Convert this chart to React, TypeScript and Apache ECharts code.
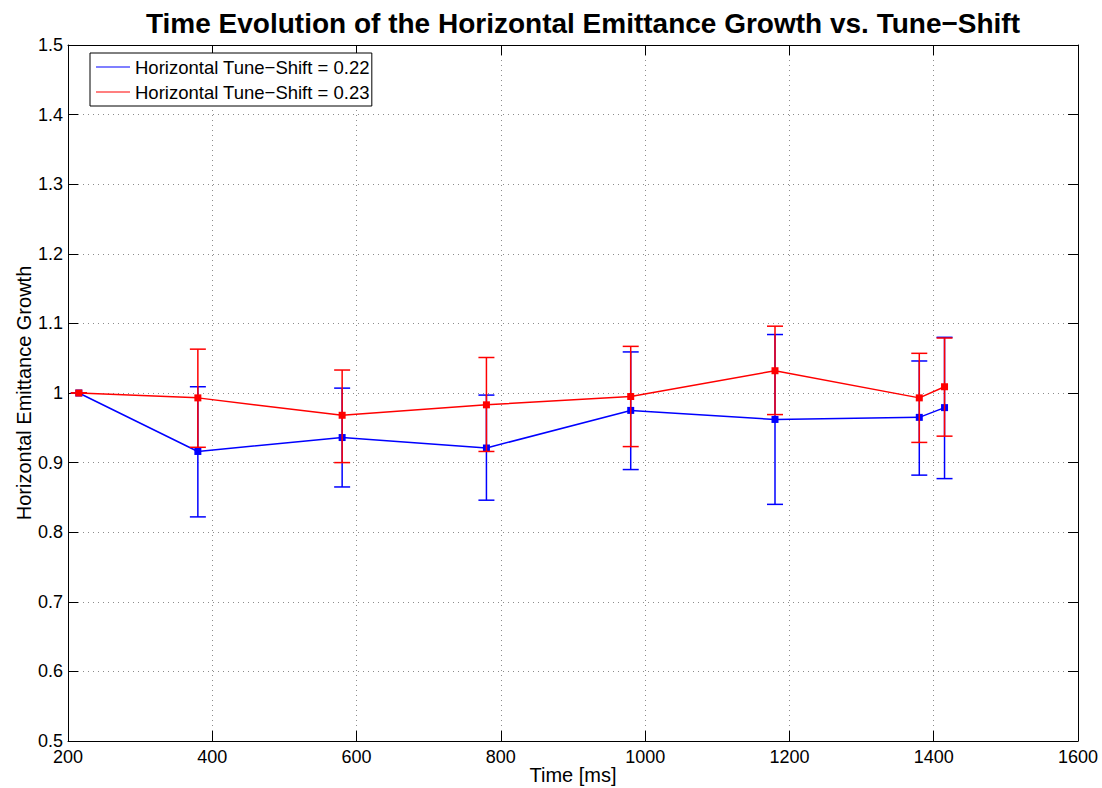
import React, { useEffect, useRef } from "react";
import * as echarts from "echarts";

// Measurement times [ms]
const time = [215, 380, 580, 780, 980, 1180, 1380, 1415];

// Tune-shift 0.22: mean growth and error-bar bounds
const growth22 = [1.0, 0.916, 0.936, 0.921, 0.975, 0.962, 0.965, 0.979];
const low22 = [1.0, 0.822, 0.865, 0.846, 0.89, 0.84, 0.882, 0.877];
const high22 = [1.0, 1.009, 1.007, 0.997, 1.059, 1.084, 1.046, 1.08];

// Tune-shift 0.23: mean growth and error-bar bounds
const growth23 = [1.0, 0.993, 0.968, 0.983, 0.995, 1.032, 0.993, 1.009];
const low23 = [1.0, 0.922, 0.9, 0.916, 0.923, 0.969, 0.929, 0.938];
const high23 = [1.0, 1.063, 1.033, 1.051, 1.067, 1.096, 1.057, 1.079];

const seriesNames = ["Horizontal Tune\u2212Shift = 0.22", "Horizontal Tune\u2212Shift = 0.23"];
const seriesColors = ["#0000ff", "#ff0000"];
const titleText = "Time Evolution of the Horizontal Emittance Growth vs. Tune\u2212Shift";

const FONT = "'Liberation Sans', Arial, Helvetica, sans-serif";
const CAP = 8;

function errorBars(name: string, color: string, lo: number[], hi: number[], z: number) {
  return {
    type: "custom",
    name,
    z,
    itemStyle: { color },
    data: time.map((t, i) => [t, lo[i], hi[i]]),
    encode: { x: 0, y: [1, 2] },
    renderItem: (params: any, api: any) => {
      const x = api.value(0);
      const pLo = api.coord([x, api.value(1)]);
      const pHi = api.coord([x, api.value(2)]);
      const style = { stroke: color, lineWidth: 1.5 };
      return {
        type: "group",
        children: [
          { type: "line", shape: { x1: pLo[0], y1: pLo[1], x2: pHi[0], y2: pHi[1] }, style },
          { type: "line", shape: { x1: pLo[0] - CAP, y1: pLo[1], x2: pLo[0] + CAP, y2: pLo[1] }, style },
          { type: "line", shape: { x1: pHi[0] - CAP, y1: pHi[1], x2: pHi[0] + CAP, y2: pHi[1] }, style },
        ],
      };
    },
  };
}

function meanLine(name: string, color: string, values: number[], z: number) {
  return {
    type: "line",
    name,
    z,
    data: time.map((t, i) => [t, values[i]]),
    symbol: "rect",
    symbolSize: 7,
    showSymbol: true,
    itemStyle: { color },
    lineStyle: { color, width: 1.5 },
  };
}

export default function App() {
  const ref = useRef<HTMLDivElement>(null);

  useEffect(() => {
    document.body.style.margin = "0";
    const chart = echarts.init(ref.current!, null, { renderer: "svg" });
    const tickStyle = { inside: true, length: 10, lineStyle: { color: "#000", width: 1 } };
    const gridLine = { show: true, lineStyle: { color: "#8c8c8c", width: 1, type: [1, 4] } };
    const labelStyle = { color: "#000", fontSize: 18, lineHeight: 14, fontFamily: FONT };
    const nameStyle = { fontSize: 20, lineHeight: 20, color: "#000", fontFamily: FONT };

    chart.setOption({
      animation: false,
      backgroundColor: "#fff",
      color: seriesColors,
      title: {
        text: titleText,
        left: 578,
        top: 4,
        textAlign: "center",
        textStyle: { fontSize: 28, fontWeight: "bold", color: "#000", fontFamily: FONT },
      },
      legend: {
        data: seriesNames.map((name, i) => ({ name, itemStyle: { color: seriesColors[i] } })),
        orient: "vertical",
        left: 90,
        top: 53,
        icon: "rect",
        itemWidth: 34,
        itemHeight: 1.2,
        itemGap: 5,
        padding: [4, 2, 4, 6],
        borderColor: "#000",
        borderWidth: 1,
        borderRadius: 0,
        backgroundColor: "#fff",
        textStyle: { fontSize: 18.5, color: "#000", fontFamily: FONT, lineHeight: 20 },
      },
      grid: { left: 68, right: 24, top: 45, bottom: 47, outerBoundsMode: "none" },
      xAxis: [
        {
          type: "value",
          min: 200,
          max: 1600,
          interval: 200,
          name: "Time [ms]",
          nameLocation: "middle",
          nameGap: 24,
          nameMoveOverlap: false,
          nameTextStyle: nameStyle,
          axisLine: { show: true, lineStyle: { color: "#000", width: 1 } },
          axisTick: tickStyle,
          axisLabel: { ...labelStyle, margin: 9, formatter: (v: number) => String(v) },
          splitLine: gridLine,
        },
        {
          type: "value",
          position: "top",
          min: 200,
          max: 1600,
          interval: 200,
          axisLine: { show: true, lineStyle: { color: "#000", width: 1 } },
          axisTick: tickStyle,
          axisLabel: { show: false },
          splitLine: { show: false },
        },
      ],
      yAxis: [
        {
          type: "value",
          min: 0.5,
          max: 1.5,
          interval: 0.1,
          name: "Horizontal Emittance Growth",
          nameLocation: "middle",
          nameGap: 34,
          nameMoveOverlap: false,
          nameTextStyle: nameStyle,
          axisLine: { show: true, lineStyle: { color: "#000", width: 1 } },
          axisTick: tickStyle,
          axisLabel: { ...labelStyle, margin: 5, formatter: (v: number) => String(Math.round(v * 10) / 10) },
          splitLine: gridLine,
        },
        {
          type: "value",
          position: "right",
          min: 0.5,
          max: 1.5,
          interval: 0.1,
          axisLine: { show: true, lineStyle: { color: "#000", width: 1 } },
          axisTick: tickStyle,
          axisLabel: { show: false },
          splitLine: { show: false },
        },
      ],
      series: [
        errorBars(seriesNames[0], seriesColors[0], low22, high22, 2),
        meanLine(seriesNames[0], seriesColors[0], growth22, 3),
        errorBars(seriesNames[1], seriesColors[1], low23, high23, 4),
        meanLine(seriesNames[1], seriesColors[1], growth23, 5),
      ],
    });
    return () => chart.dispose();
  }, []);

  return (
    <div
      ref={ref}
      style={{ position: "absolute", left: 0, top: 0, width: 1102, height: 788 }}
    />
  );
}
